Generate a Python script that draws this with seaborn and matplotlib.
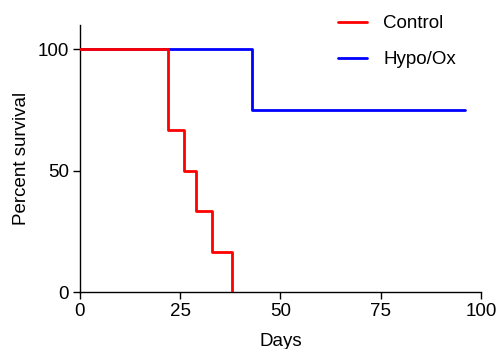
import matplotlib

matplotlib.use("Agg")
import matplotlib.pyplot as plt
import pandas as pd
import seaborn as sns

GROUPS = ["Control", "Hypo/Ox"]
COLORS = {"Control": "#ff0000", "Hypo/Ox": "#0000ff"}

# Kaplan-Meier step points (time in days, percent survival)
CONTROL_DAYS = [0, 22, 26, 29, 33, 38]
CONTROL_SURV = [100, 66.67, 50, 33.33, 16.67, 0]
HYPOX_DAYS = [0, 43, 96]
HYPOX_SURV = [100, 75, 75]

X_TICKS = [0, 25, 50, 75, 100]
Y_TICKS = [0, 50, 100]


def build_frame() -> pd.DataFrame:
    """Long table of the survival steps for both groups."""
    rows = []
    for d, s in zip(CONTROL_DAYS, CONTROL_SURV):
        rows.append({"Days": d, "Percent survival": s, "group": "Control"})
    for d, s in zip(HYPOX_DAYS, HYPOX_SURV):
        rows.append({"Days": d, "Percent survival": s, "group": "Hypo/Ox"})
    return pd.DataFrame(rows)


def main() -> None:
    df = build_frame()

    sns.set_theme(style="ticks", rc={
        "text.color": "black", "axes.labelcolor": "black",
        "xtick.color": "black", "ytick.color": "black",
    })
    plt.rcParams["font.family"] = ["Liberation Sans", "DejaVu Sans"]
    fs = 13.5

    fig = plt.figure(figsize=(4.96, 3.49), dpi=100)
    ax = fig.add_axes([0.161, 0.163, 0.809, 0.765])

    sns.lineplot(
        data=df, x="Days", y="Percent survival", hue="group", hue_order=GROUPS,
        palette=COLORS, estimator=None, sort=False, drawstyle="steps-post",
        linewidth=2, ax=ax, legend=True,
    )
    # control drawn over hypo/ox where they overlap at 100%
    ax.lines[0].set_zorder(3)

    ax.set_xlim(0, 100)
    ax.set_ylim(0, 110)
    ax.set_xticks(X_TICKS)
    ax.set_yticks(Y_TICKS)
    ax.tick_params(labelsize=fs, length=5, width=1, color="black", direction="out", pad=3)
    ax.set_xlabel("Days", fontsize=fs, labelpad=9)
    ax.set_ylabel("Percent survival", fontsize=fs, labelpad=5)
    for side in ["top", "right"]:
        ax.spines[side].set_visible(False)
    for side in ["left", "bottom"]:
        ax.spines[side].set_linewidth(1)
        ax.spines[side].set_color("black")

    handles, labels = ax.get_legend_handles_labels()
    ax.legend(
        handles, labels, frameon=False, fontsize=fs, loc="upper left",
        bbox_to_anchor=(0.648, 1.005), bbox_transform=fig.transFigure,
        handlelength=1.55, handletextpad=0.85, labelspacing=1.0,
    )

    fig.savefig("out.png", dpi=100)


if __name__ == "__main__":
    main()
